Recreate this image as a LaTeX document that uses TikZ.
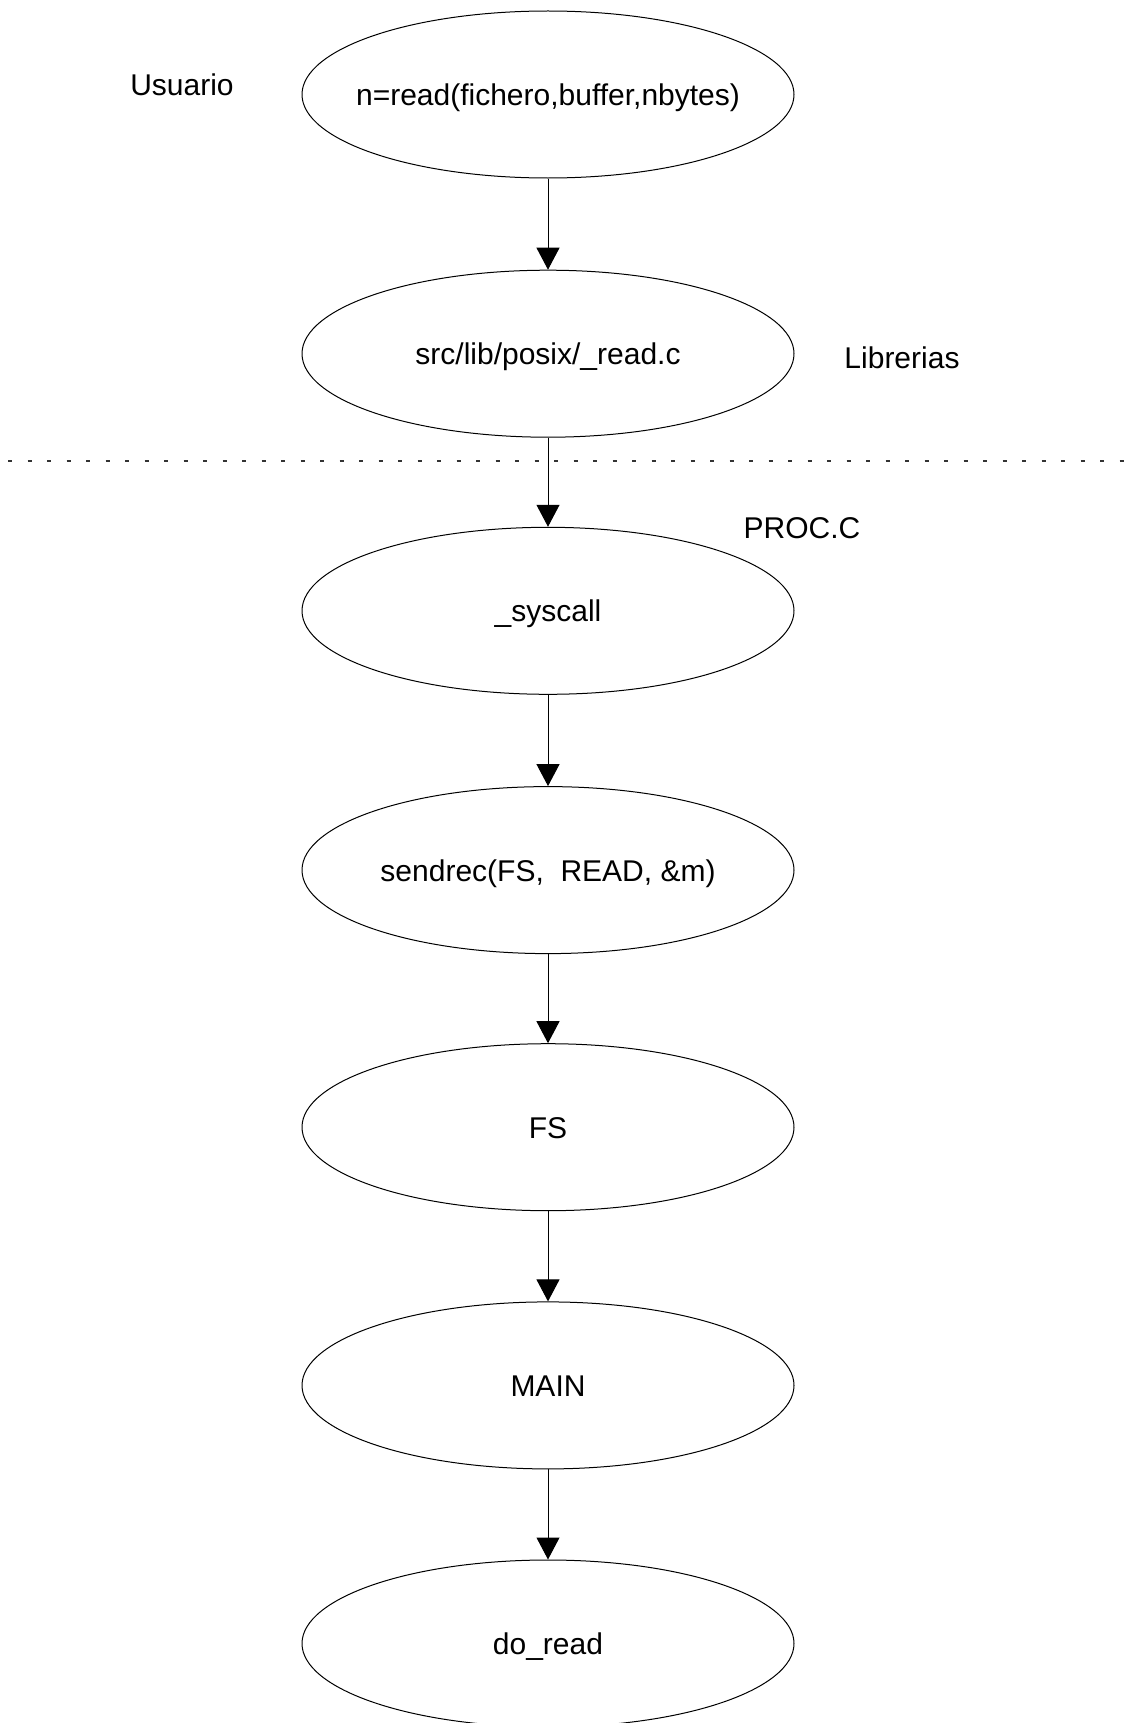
\documentclass[tikz,border=0pt]{standalone}
\usepackage{fontspec}
\setmainfont{Liberation Sans}
\usepackage{tikz}
\usetikzlibrary{shapes}
\usetikzlibrary{arrows.meta}

\begin{document}
\begin{tikzpicture}[x=0.5pt,y=-0.5pt,
    paso/.style={draw,ellipse,minimum width=246pt,minimum height=83.5pt,inner sep=0pt,text height=14pt,text depth=3pt,line width=0.5pt,font=\fontsize{15}{18}\selectfont},
    rotulo/.style={font=\fontsize{15}{18}\selectfont},
    flecha/.style={-{Triangle[width=11.5pt,length=11pt]},line width=0.5pt}]
          \useasboundingbox (0,0) rectangle (1125,1723);
          \node[paso] (read) at (548,94.5) {\makebox[0pt]{n=read(fichero,buffer,nbytes)}};
          \node[paso] (lib) at (548,353.7) {src/lib/posix/\_read.c};
          \node[paso] (syscall) at (548,610.8) {\_syscall};
          \node[paso] (sendrec) at (548,870.1) {sendrec(FS,\ \ READ, \&m)};
          \node[paso] (fs) at (548,1127.2) {FS};
          \node[paso] (main) at (548,1385.4) {MAIN};
          \node[paso] (doread) at (548,1643.5) {do\_read};
          \node[rotulo] (usuario) at (182,85) {Usuario};
          \node[rotulo] (librerias) at (902,358) {Librerias};
          \node[rotulo] (procc) at (802,528) {PROC.C};
          \draw[dash pattern=on 2pt off 7.75pt,line width=0.6pt,black!80] (8,461) -- (1125,461);
          \draw[flecha] (read) -- (lib);
          \draw[flecha] (lib) -- (syscall);
          \draw[flecha] (syscall) -- (sendrec);
          \draw[flecha] (sendrec) -- (fs);
          \draw[flecha] (fs) -- (main);
          \draw[flecha] (main) -- (doread);
        \end{tikzpicture}
\end{document}
